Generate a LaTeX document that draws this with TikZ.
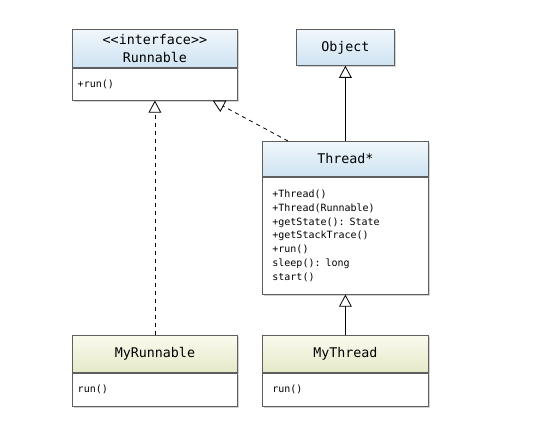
\documentclass[tikz,border=0pt]{standalone}
\usepackage{fontspec}
\setmonofont{DejaVu Sans Mono}
\usetikzlibrary{arrows.meta}
\usetikzlibrary{shadows}
\usetikzlibrary{positioning}

\definecolor{headtop}{RGB}{241,247,252}
\definecolor{headbot}{RGB}{206,227,242}
\definecolor{usertop}{RGB}{250,250,238}
\definecolor{userbot}{RGB}{230,233,200}
\definecolor{boxline}{RGB}{95,95,95}

\tikzset{
  classhead/.style={draw=boxline, line width=0.6pt, top color=headtop, bottom color=headbot,
    inner sep=0pt, align=center, font=\ttfamily\fontsize{10}{13.5}\selectfont,
    drop shadow={shadow xshift=1.2pt, shadow yshift=-1.2pt, opacity=0.35}},
  userhead/.style={classhead, top color=usertop, bottom color=userbot},
  classbody/.style={draw=boxline, line width=0.6pt, fill=white, inner ysep=0pt, inner xsep=4pt,
    align=left, font=\ttfamily\fontsize{7.5}{10.3}\selectfont,
    drop shadow={shadow xshift=1.2pt, shadow yshift=-1.2pt, opacity=0.35}},
  extends/.style={line width=0.6pt, -{Triangle[open, length=9pt, width=9.5pt]}},
  realizes/.style={extends, dash pattern=on 3pt off 3pt}
}

\begin{document}
\begin{tikzpicture}[x=0.75pt,y=0.75pt,yscale=-1,xscale=1]
\useasboundingbox (0,0) rectangle (558,427);

%Shape: Class Runnable
\node [classhead, anchor=north west, text width=123.75pt, minimum height=28.5pt] (runH) at (72,29) {<{}<interface>{}>\\Runnable};
\node [classbody, below=0pt of runH, text width=115.75pt, minimum height=24pt] (runB) {+run()};

%Shape: Class Object
\node [classhead, anchor=north west, text width=73.5pt, minimum height=27pt] (objH) at (296,29) {Object};

%Shape: Class Thread
\node [classhead, anchor=north west, text width=124.5pt, minimum height=26.25pt] (threadH) at (262,141) {Thread*};
\node [classbody, below=0pt of threadH, inner xsep=7.5pt, text width=109.5pt, minimum height=87.75pt] (threadB) {+Thread()\\+Thread(Runnable)\\+getState(): State\\+getStackTrace()\\+run()\\sleep(): long\\start()};

%Shape: Class MyRunnable
\node [userhead, anchor=north west, text width=123.75pt, minimum height=27.75pt] (myrunH) at (72,335) {MyRunnable};
\node [classbody, below=0pt of myrunH, text width=115.75pt, minimum height=24.75pt] (myrunB) {run()};

%Shape: Class MyThread
\node [userhead, anchor=north west, text width=124.5pt, minimum height=27.75pt] (mythreadH) at (262,335) {MyThread};
\node [classbody, below=0pt of mythreadH, inner xsep=7.5pt, text width=109.5pt, minimum height=24.75pt] (mythreadB) {run()};

%Straight Lines
\draw [extends] (threadH.north) -- (objH.south);
\draw [extends] (mythreadH.north) -- (threadB.south);
\draw [realizes] (myrunH.north) -- (runB.south);
\draw [realizes] ([xshift=19.5pt]threadH.north west) -- ([xshift=-18.75pt]runB.south east);

\end{tikzpicture}
\end{document}
